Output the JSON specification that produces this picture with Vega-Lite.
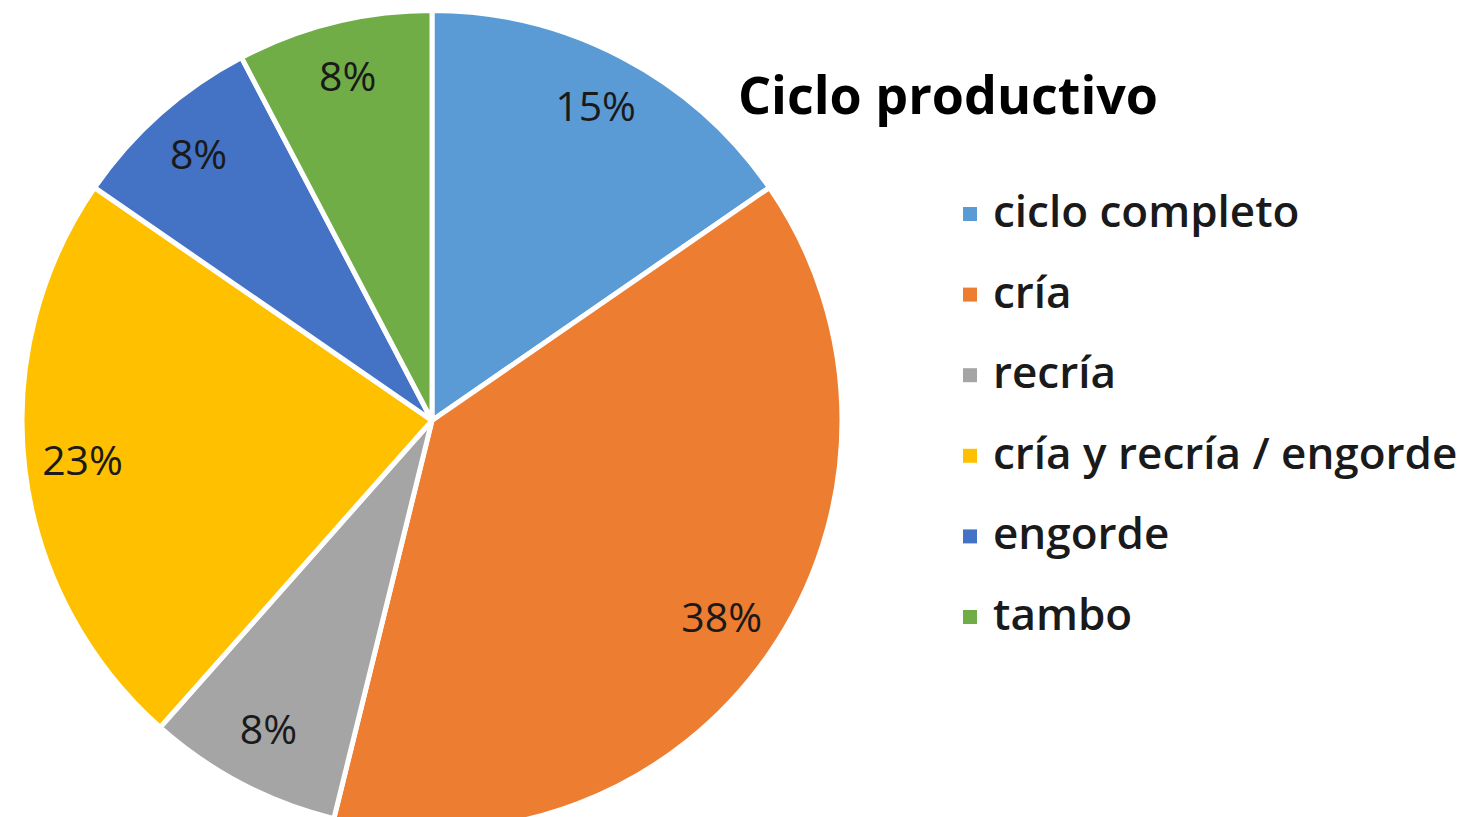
{
  "$schema": "https://vega.github.io/schema/vega-lite/v6.json",
  "width": 864,
  "height": 823,
  "padding": 0,
  "background": "white",
  "config": {"view": {"stroke": null}, "font": "Open Sans"},
  "data": {
    "values": [
      {"tipo": "ciclo completo", "n": 2, "pct": "15%", "ord": 1},
      {"tipo": "cría", "n": 5, "pct": "38%", "ord": 2},
      {"tipo": "recría", "n": 1, "pct": "8%", "ord": 3},
      {"tipo": "cría y recría / engorde", "n": 3, "pct": "23%", "ord": 4},
      {"tipo": "engorde", "n": 1, "pct": "8%", "ord": 5},
      {"tipo": "tambo", "n": 1, "pct": "8%", "ord": 6}
    ]
  },
  "encoding": {
    "theta": {"field": "n", "type": "quantitative", "stack": true},
    "order": {"field": "ord", "type": "quantitative"}
  },
  "layer": [
    {
      "mark": {"type": "arc", "outerRadius": 410, "stroke": "white", "strokeWidth": 5},
      "encoding": {
        "color": {
          "field": "tipo",
          "type": "nominal",
          "scale": {
            "domain": ["ciclo completo", "cría", "recría", "cría y recría / engorde", "engorde", "tambo"],
            "range": ["#5B9BD5", "#ED7D31", "#A5A5A5", "#FFC000", "#4472C4", "#70AD47"]
          },
          "legend": {
            "title": "Ciclo productivo",
            "orient": "none",
            "legendX": 738,
            "legendY": 64,
            "padding": 0,
            "titleFontSize": 52,
            "titleFont": "Open Sans",
            "titleFontWeight": "bold",
            "titleColor": "#000000",
            "titleAnchor": "start",
            "titleAlign": "center",
            "titlePadding": 67,
            "titleLimit": 1000,
            "symbolType": "square",
            "symbolSize": 196,
            "symbolStrokeWidth": 0,
            "labelFontSize": 44,
            "labelFont": "Open Sans",
            "labelFontWeight": 600,
            "labelColor": "#1a1a1a",
            "labelOffset": 1,
            "labelLimit": 1000,
            "rowPadding": 36.6
          }
        }
      }
    },
    {
      "mark": {"type": "text", "radius": 352, "fontSize": 41, "font": "Open Sans", "fontWeight": 500, "color": "#1a1a1a"},
      "encoding": {"text": {"field": "pct", "type": "nominal"}}
    }
  ]
}
